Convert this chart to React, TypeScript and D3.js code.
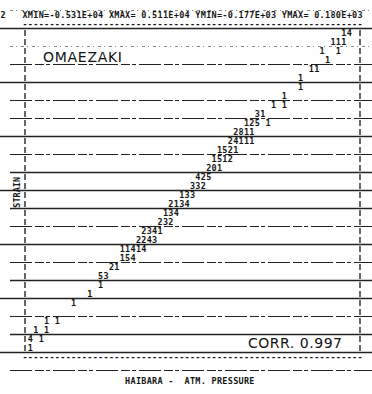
import React from 'react';
import * as d3 from 'd3';

const W = 372;
const H = 394;

// printout header
const runNo = '2';
const rangeText = 'XMIN=-0.531E+04 XMAX= 0.511E+04 YMIN=-0.177E+03 YMAX= 0.180E+03';

// binned scatter: printer row, first printer column, counts per cell
const binRows = [0, 1, 2, 3, 4, 5, 6, 7, 8, 9, 10, 11, 12, 13, 14, 15, 16, 17, 18, 19, 20, 21, 22, 23, 24, 25, 26, 27, 28, 29, 30, 32, 33, 34, 35];
const binCols = [59, 57, 55, 56, 53, 51, 51, 48, 46, 43, 41, 39, 38, 36, 35, 34, 32, 31, 29, 27, 26, 25, 22, 21, 18, 18, 16, 14, 14, 12, 9, 4, 2, 1, 1];
const binCounts = ['14', '111', '1  1', '1', '11', '1', '1', '1', '1 1', '31', '125 1', '2811', '24111', '1521', '1512', '201', '425', '332', '133', '2134', '134', '232', '2341', '2243', '11414', '154', '21', '53', '1', '1', '1', '1 1', '1 1', '4 1', '1'];

const yStation = 'OMAEZAKI';
const xStation = 'HAIBARA -  ATM. PRESSURE';
const yTitle = 'STRAIN';
const corrLabel = 'CORR. 0.997';

const NCOL = 62;
const NROW = 35;

// paper rulings (strong = solid, otherwise broken)
const ruleStyle = ['faint', 'solid', 'faint', 'dash', 'solid', 'dash', 'dash', 'solid', 'dash', 'solid', 'solid', 'solid', 'dash', 'solid', 'dash', 'solid', 'solid', 'dash', 'solid', 'solid', 'dash'];

const mono = '"DejaVu Sans Mono", monospace';

export default function App() {
  const col = d3.scaleLinear().domain([0, NCOL]).range([25, 360]);
  const row = d3.scaleLinear().domain([0, NROW]).range([33, 348]);

  const printChars = (s: string, c0: number, r: number, key: string) =>
    s.split('').map((ch, i) =>
      ch === ' ' ? null : (
        <text key={key + '-' + i} x={col(c0 + i)} y={row(r)} dy="0.36em" textAnchor="middle"
          fontFamily={mono} fontWeight="bold" fontSize={8.5} fill="#151515">{ch}</text>
      ));

  const rules = d3.range(ruleStyle.length).map(k => 10.5 + k * 18);

  return (
    <div style={{ position: 'absolute', left: 0, top: 0 }}>
      <svg width={W} height={H} style={{ display: 'block', background: '#fff' }}>
        {/* paper rulings */}
        {rules.map((y, k) => {
          const st = ruleStyle[k];
          const leftX = k % 3 === 1 ? 0 : 10;
          return (
            <line key={'rule' + k} x1={leftX} x2={372} y1={y} y2={y}
              stroke={st === 'faint' ? '#888' : '#222'}
              strokeWidth={st === 'solid' ? 1.3 : 1}
              strokeDasharray={st === 'solid' ? undefined : st === 'dash' ? '22 3 9 2 4 3' : '3 3 1 4'} />
          );
        })}

        {/* header */}
        <text x={3} y={row(-2)} dy="0.36em" textAnchor="middle" fontFamily={mono} fontWeight="bold" fontSize={8.5} fill="#151515">{runNo}</text>
        {printChars(rangeText, 0, -2, 'hdr')}

        {/* frame: dashed rows top/bottom, I-columns left/right */}
        {printChars('-'.repeat(NCOL + 1), 0, -1, 'top')}
        {printChars('-'.repeat(NCOL + 1), 0, NROW + 1, 'bot')}
        {d3.range(NROW + 1).map(r => (
          <g key={'brd' + r}>
            <line x1={col(0)} x2={col(0)} y1={row(r) - 3} y2={row(r) + 3} stroke="#151515" strokeWidth={1.3} />
            <line x1={col(NCOL)} x2={col(NCOL)} y1={row(r) - 3} y2={row(r) + 3} stroke="#151515" strokeWidth={1.3} />
          </g>
        ))}

        {/* counts */}
        {binCounts.map((s, i) => printChars(s, binCols[i], binRows[i], 'b' + i))}

        {/* labels */}
        <text x={43} y={62} fontFamily='"DejaVu Sans", sans-serif' fontSize={14} textLength={79} lengthAdjust="spacing" fill="#111">{yStation}</text>
        <text x={248} y={348} fontFamily='"DejaVu Sans", sans-serif' fontSize={14} textLength={94} lengthAdjust="spacing" fill="#111">{corrLabel}</text>
        <text transform={`translate(17,${row(17.7)}) rotate(-90)`} dy="0.36em" textAnchor="middle"
          fontFamily={mono} fontWeight="bold" fontSize={8.5} fill="#151515">{yTitle}</text>
        {printChars(xStation, 19, 38.7, 'xl')}
      </svg>
    </div>
  );
}
